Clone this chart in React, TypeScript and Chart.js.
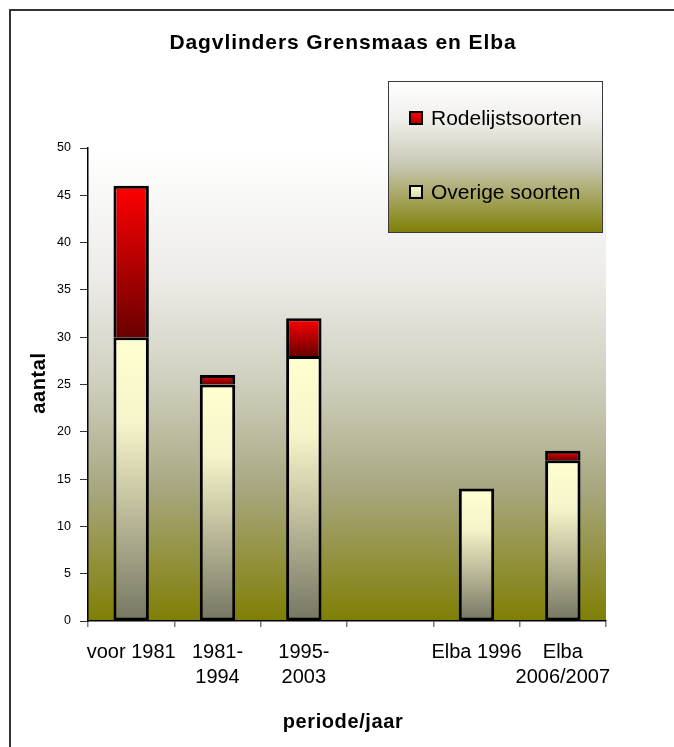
import React, { useEffect, useRef } from "react";
import { Chart, registerables } from "chart.js";

Chart.register(...registerables);

// ---- data ----
const categories: (string | string[])[] = [
  "voor 1981",
  ["1981-", "1994"],
  ["1995-", "2003"],
  "",
  "Elba 1996",
  ["Elba", "2006/2007"],
];
const overigeSoorten: (number | null)[] = [30, 25, 28, null, 14, 17];
const rodelijstSoorten: (number | null)[] = [16, 1, 4, null, null, 1];
const seriesLabels = ["Overige soorten", "Rodelijstsoorten"];
const chartTitle = "Dagvlinders Grensmaas en Elba";
const xAxisTitle = "periode/jaar";
const yAxisTitle = "aantal";
const yMin = 0;
const yMax = 50;
const yStep = 5;

const FONT = '"Liberation Sans", Arial, sans-serif';

const overigeStops: [number, string][] = [
  [0, "#FFFFD0"],
  [0.3, "#F6F4CA"],
  [0.62, "#BDBB9A"],
  [1, "#767663"],
];
const redStops: [number, string][] = [
  [0, "#FF0000"],
  [1, "#6A0000"],
];

function segGradient(ctx: any, stops: [number, string][]) {
  const chart = ctx.chart;
  const yScale = chart.scales && chart.scales.y;
  if (!yScale || ctx.type !== "data") return stops[0][1];
  const i = ctx.dataIndex;
  const di = ctx.datasetIndex;
  let base = 0;
  for (let d = 0; d < di; d++) base += chart.data.datasets[d].data[i] ?? 0;
  const v = chart.data.datasets[di].data[i] ?? 0;
  const top = yScale.getPixelForValue(base + v);
  const bottom = yScale.getPixelForValue(base);
  if (!isFinite(top) || !isFinite(bottom) || top === bottom) return stops[0][1];
  const g = chart.ctx.createLinearGradient(0, top, 0, bottom);
  stops.forEach(([o, c]) => g.addColorStop(o, c));
  return g;
}

const decorPlugin = {
  id: "decor",
  beforeDraw(chart: any) {
    const { ctx, chartArea } = chart;
    const { left, right, top, bottom } = chartArea;
    ctx.save();
    const g = ctx.createLinearGradient(0, top, 0, bottom);
    g.addColorStop(0, "#FFFFFF");
    g.addColorStop(0.28, "#ECEBE7");
    g.addColorStop(0.5, "#CFCEBD");
    g.addColorStop(0.72, "#A8A780");
    g.addColorStop(1, "#7F7F05");
    ctx.fillStyle = g;
    ctx.fillRect(left, top, right - left, bottom - top);
    ctx.restore();
  },
  afterDraw(chart: any) {
    const { ctx, chartArea } = chart;
    ctx.save();
    ctx.fillStyle = "#000";
    // title
    (ctx as any).letterSpacing = "0.9px";
    ctx.font = `bold 21px ${FONT}`;
    ctx.textAlign = "center";
    ctx.textBaseline = "alphabetic";
    ctx.fillText(chartTitle, 343, 49);
    // x axis title
    (ctx as any).letterSpacing = "0.6px";
    ctx.font = `bold 20px ${FONT}`;
    ctx.fillText(xAxisTitle, (chartArea.left + chartArea.right) / 2 - 4, 728);
    // y axis title
    ctx.save();
    ctx.translate(45, 383);
    ctx.rotate(-Math.PI / 2);
    ctx.fillText(yAxisTitle, 0, 0);
    ctx.restore();
    (ctx as any).letterSpacing = "0px";

    // legend box
    const bx = 388, by = 81, bw = 215, bh = 152;
    const lg = ctx.createLinearGradient(0, by, 0, by + bh);
    lg.addColorStop(0, "#FFFFFF");
    lg.addColorStop(0.25, "#F0EFEC");
    lg.addColorStop(0.55, "#C9C8B4");
    lg.addColorStop(1, "#7F7F05");
    ctx.fillStyle = lg;
    ctx.fillRect(bx, by, bw, bh);
    ctx.strokeStyle = "#3A3A3A";
    ctx.lineWidth = 1;
    ctx.strokeRect(bx + 0.5, by + 0.5, bw - 1, bh - 1);

    const items = [
      { label: chart.data.datasets[1].label, y: 118, stops: redStops },
      { label: chart.data.datasets[0].label, y: 192, stops: overigeStops },
    ];
    items.forEach((it) => {
      const sx = 410, sy = it.y - 6, ss = 12;
      const sg = ctx.createLinearGradient(0, sy, 0, sy + ss);
      sg.addColorStop(0, it.stops[0][1]);
      sg.addColorStop(1, it.stops === redStops ? "#B00000" : "#D8D6B0");
      ctx.fillStyle = sg;
      ctx.fillRect(sx, sy, ss, ss);
      ctx.strokeStyle = "#000";
      ctx.lineWidth = 2;
      ctx.strokeRect(sx, sy, ss, ss);
      ctx.fillStyle = "#000";
      ctx.font = `21px ${FONT}`;
      ctx.textAlign = "left";
      ctx.textBaseline = "alphabetic";
      ctx.fillText(it.label, 431, it.y + 6.5);
    });
    ctx.restore();
  },
};

export default function App() {
  const ref = useRef<HTMLCanvasElement | null>(null);
  useEffect(() => {
    if (!ref.current) return;
    const chart = new Chart(ref.current, {
      type: "bar",
      data: {
        labels: categories as any,
        datasets: [
          {
            label: seriesLabels[0],
            data: overigeSoorten as any,
            backgroundColor: (c: any) => segGradient(c, overigeStops),
            borderColor: "#000",
            borderWidth: 3,
            borderSkipped: false,
          },
          {
            label: seriesLabels[1],
            data: rodelijstSoorten as any,
            backgroundColor: (c: any) => segGradient(c, redStops),
            borderColor: "#000",
            borderWidth: { top: 3, left: 3, right: 3, bottom: 0 },
            borderSkipped: false,
          },
        ],
      },
      options: {
        animation: false,
        responsive: false,
        devicePixelRatio: 1,
        layout: { padding: { left: 0, right: 68, top: 148, bottom: 0 } },
        datasets: { bar: { categoryPercentage: 1, barPercentage: 0.41 } },
        plugins: {
          legend: { display: false },
          title: { display: false },
          tooltip: { enabled: false },
        },
        scales: {
          x: {
            stacked: true,
            offset: true,
            afterFit: (s: any) => {
              s.height = 126;
            },
            grid: {
              display: true,
              offset: true,
              drawOnChartArea: false,
              drawTicks: true,
              tickLength: 6,
              color: "#7A7A7A",
              lineWidth: 1.5,
            },
            border: { display: true, color: "#000", width: 1.5 },
            ticks: {
              color: "#000",
              font: { family: FONT, size: 20, lineHeight: 1.25 },
              padding: 13,
              maxRotation: 0,
              autoSkip: false,
            },
          },
          y: {
            stacked: true,
            min: yMin,
            max: yMax,
            afterFit: (s: any) => {
              s.width = 88;
            },
            grid: {
              display: true,
              drawOnChartArea: false,
              drawTicks: true,
              tickLength: 8,
              color: "#333",
            },
            border: { display: true, color: "#000", width: 1.5 },
            ticks: {
              stepSize: yStep,
              color: "#000",
              font: { family: FONT, size: 12.5 },
              padding: 9,
            },
          },
        },
      },
      plugins: [decorPlugin],
    });
    return () => chart.destroy();
  }, []);

  return (
    <div style={{ position: "fixed", left: 0, top: 0, width: 674, height: 747, background: "#fff", overflow: "hidden" }}>
      <div
        style={{
          position: "absolute",
          left: 9,
          top: 9,
          width: 700,
          height: 800,
          borderLeft: "2px solid #333",
          borderTop: "2px solid #333",
        }}
      />
      <canvas ref={ref} width={674} height={747} style={{ position: "absolute", left: 0, top: 0, width: 674, height: 747 }} />
    </div>
  );
}
